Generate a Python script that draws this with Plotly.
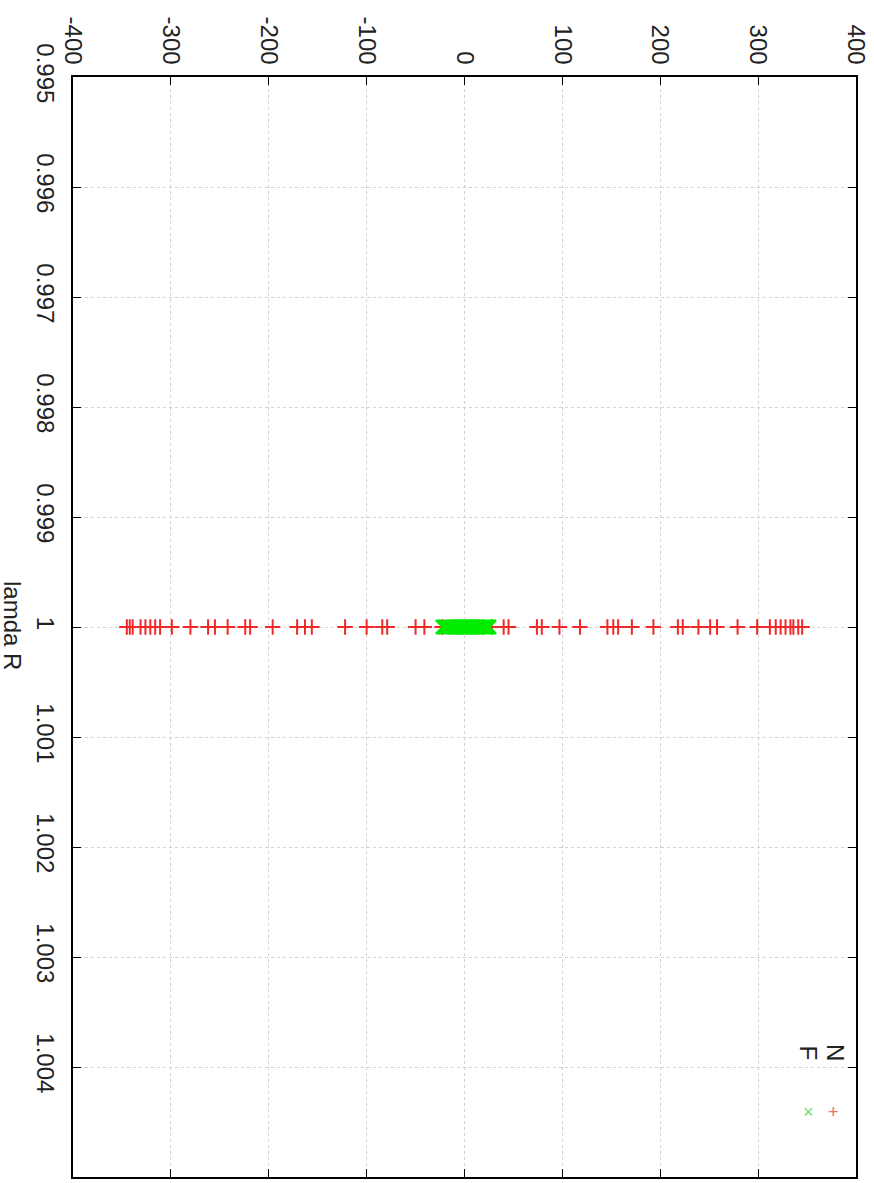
import plotly.graph_objects as go

# Data: all points lie at lamda R = 1
lam_ticks = [0.995, 0.996, 0.997, 0.998, 0.999, 1.000, 1.001, 1.002, 1.003, 1.004, 1.005]
lam_labels = ["0.995", "0.996", "0.997", "0.998", "0.999", "1", "1.001", "1.002", "1.003", "1.004", "1.005"]
val_ticks = [-400, -300, -200, -100, 0, 100, 200, 300, 400]
val_labels = ["-400", "-300", "-200", "-100", "0", "100", "200", "300", "400"]

n_values = [-345, -342, -339, -331, -326, -321, -316, -311, -299, -280, -262, -255,
            -242, -224, -219, -196, -171, -163, -156, -122, -100, -84, -79, -50,
            -41, -23, 28, 40, 45, 74, 79, 97, 118, 146, 152, 157, 171, 193, 218,
            223, 239, 251, 258, 279, 299, 312, 318, 323, 328, 333, 336, 341, 345]
n_lam = [1.0] * len(n_values)

f_values = [-22, -20, -19, -17, -15, -13, -11, -9, -7, -5, -4, -2, 0, 2, 4,
            5, 7, 9, 11, 13, 14, 16, 18, 20, 22, 24, 25]
f_lam = [1.0] * len(f_values)

RED = "rgb(240,40,40)"
GREEN = "rgb(0,235,0)"

fig = go.Figure()
fig.add_trace(go.Scatter(
    x=n_values, y=n_lam, mode="markers", name="N",
    marker=dict(symbol="cross-thin-open", size=11, color=RED,
                line=dict(color=RED, width=2)),
))
fig.add_trace(go.Scatter(
    x=f_values, y=f_lam, mode="markers", name="F",
    marker=dict(symbol="x-thin-open", size=14, color=GREEN,
                line=dict(color=GREEN, width=2.5)),
))

font = dict(family="Liberation Sans, Arial, sans-serif", size=24, color="#222")

fig.update_layout(
    width=874, height=1183,
    margin=dict(l=73, r=18, t=77, b=6),
    paper_bgcolor="white", plot_bgcolor="white",
    showlegend=False,
    font=font,
    xaxis=dict(
        side="top", range=[-400, 400], tickvals=val_ticks, ticktext=val_labels,
        tickangle=90, ticks="inside", ticklen=8, tickcolor="black",
        showline=True, linecolor="black", linewidth=2, mirror="ticks",
        showgrid=True, gridcolor="#d2d2d2", griddash="dot", gridwidth=1,
        zeroline=False, tickfont=font, ticklabelstandoff=2, automargin=False,
    ),
    yaxis=dict(
        range=[1.005, 0.995], tickvals=lam_ticks, ticktext=lam_labels,
        tickangle=90, ticks="inside", ticklen=8, tickcolor="black",
        showline=True, linecolor="black", linewidth=2, mirror="ticks",
        showgrid=True, gridcolor="#d2d2d2", griddash="dot", gridwidth=1,
        zeroline=False, tickfont=font, ticklabelstandoff=5, automargin=False,
    ),
)

# Axis title (rotated like the reference)
fig.add_annotation(text="lamda R", xref="paper", yref="paper", x=-0.078, y=0.501,
                   xanchor="center", yanchor="middle",
                   textangle=90, showarrow=False, font=font)

# Legend (rotated text with sample symbols)
fig.add_annotation(text="N", xref="paper", yref="paper", x=0.974, y=0.113,
                   xanchor="center", yanchor="middle",
                   textangle=90, showarrow=False, font=font)
fig.add_annotation(text="F", xref="paper", yref="paper", x=0.939, y=0.113,
                   xanchor="center", yanchor="middle",
                   textangle=90, showarrow=False, font=font)
fig.add_annotation(text="+", xref="paper", yref="paper", x=0.971, y=0.059,
                   xanchor="center", yanchor="middle", showarrow=False,
                   font=dict(family=font["family"], size=18, color="rgb(240,110,110)"))
fig.add_annotation(text="×", xref="paper", yref="paper", x=0.939, y=0.059,
                   xanchor="center", yanchor="middle", showarrow=False,
                   font=dict(family=font["family"], size=18, color="rgb(110,220,110)"))

fig.write_html("out.html", config={"displayModeBar": False},
               post_script="document.body.style.margin='0';")
